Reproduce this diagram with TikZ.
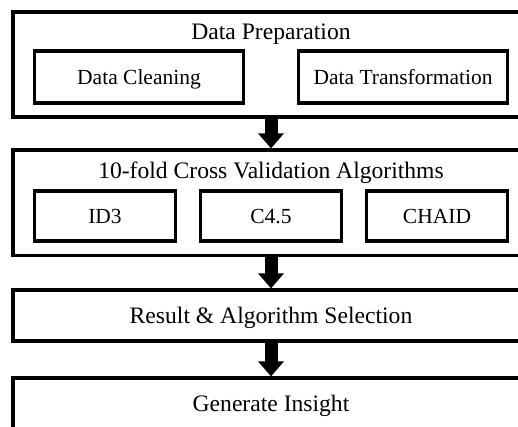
\documentclass[tikz,border=0pt]{standalone}
\usepackage{fontspec}
\setmainfont{Liberation Serif}
\usetikzlibrary{arrows.meta,positioning}
\tikzset{
    blok/.style={
           rectangle,
           draw=black, line width=3.2pt,
           minimum width=516pt,
           inner sep=0pt},
    delblok/.style={
           rectangle,
           draw=black, line width=3.2pt,
           inner sep=0pt,
           text height=14.2pt, text depth=0pt,
           font=\fontsize{21.5pt}{24pt}\selectfont},
    titel/.style={
           anchor=base,
           font=\fontsize{23.6pt}{26pt}\selectfont},
    pil/.style={
           -{Triangle[width=25pt,length=15pt]},
           line width=13pt}
}

\begin{document}
\begin{tikzpicture}[x=1pt, y=-1pt]
        \useasboundingbox (0,0) rectangle (518,426);
        \clip (0,0) rectangle (518,426);
        % outer stages
        \node[blok, minimum height=105pt] (prep) at (271,64.5) {};
        \node[blok, minimum height=105.5pt] (cv) at (271,202.75) {};
        \node[blok, minimum height=51pt, titel, anchor=center,
              text height=15.6pt, text depth=0pt] (res) at (271,315.5) {Result \& Algorithm Selection};
        \node[blok, minimum height=105pt] (ins) at (271,430.5) {};
        % titles
        \node[titel] (preptxt) at (271,39) {Data Preparation};
        \node[titel] (cvtxt) at (271,178) {10-fold Cross Validation Algorithms};
        \node[titel] (instxt) at (271,411.5) {Generate Insight};
        % sub steps
        \node[delblok, minimum width=209pt, minimum height=52pt] (clean) at (139,77) {Data Cleaning};
        \node[delblok, minimum width=209pt, minimum height=52pt, right=51.8pt of clean] (trans) {Data Transformation};
        \node[delblok, minimum width=141pt, minimum height=50pt] (id3) at (105,216) {ID3};
        \node[delblok, minimum width=141pt, minimum height=50pt, right=21.8pt of id3] (c45) {C4.5};
        \node[delblok, minimum width=141pt, minimum height=50pt, right=21.8pt of c45] (chaid) {CHAID};
        \draw[pil] (prep) -- (cv);
        \draw[pil] (cv) -- (res);
        \draw[pil] (res) -- (ins);
\end{tikzpicture}
\end{document}
